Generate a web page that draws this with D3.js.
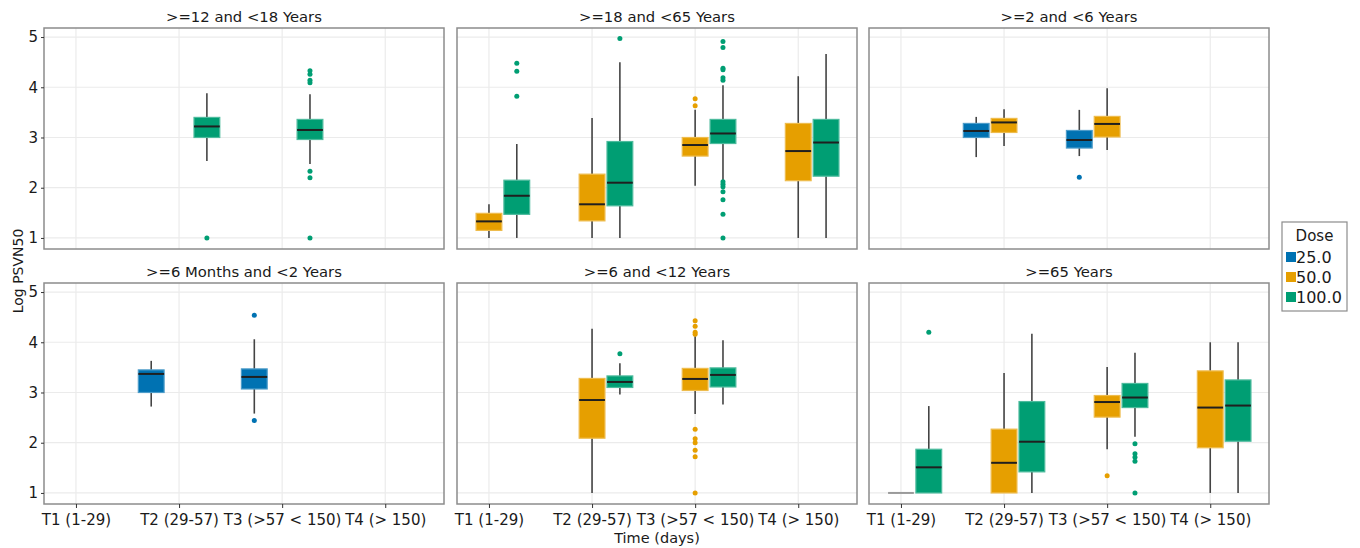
<!DOCTYPE html>
<html>
<head>
<meta charset="utf-8">
<script src="https://cdn.jsdelivr.net/npm/d3@7"></script>
<style>
  html, body { margin: 0; padding: 0; background: #fff; }
  svg { display: block; font-family: "DejaVu Sans", sans-serif; }
</style>
</head>
<body>
<svg id="chart" width="1360" height="548"></svg>
<script>
// Facet titles, laid out row by row (3 per row)
const panelTitles = [
  ">=12 and <18 Years", ">=18 and <65 Years", ">=2 and <6 Years",
  ">=6 Months and <2 Years", ">=6 and <12 Years", ">=65 Years"
];
const timeLabels = ["T1 (1-29)", "T2 (29-57)", "T3 (>57 < 150)", "T4 (> 150)"];
const doseLabels = ["25.0", "50.0", "100.0"];
const doseColors = ["#0072B2", "#E69F00", "#009E73"];
const yTicks = [1, 2, 3, 4, 5];

// Box statistics: [panel, time, dose, lowWhisker, q1, median, q3, highWhisker]
const boxStats = [
  [0, 1, 2, 2.53, 3.00, 3.22, 3.40, 3.88],
  [0, 2, 2, 2.47, 2.96, 3.15, 3.36, 3.86],

  [1, 0, 1, 1.00, 1.15, 1.33, 1.49, 1.67],
  [1, 0, 2, 1.00, 1.47, 1.84, 2.15, 2.87],
  [1, 1, 1, 1.00, 1.34, 1.67, 2.27, 3.39],
  [1, 1, 2, 1.00, 1.64, 2.10, 2.92, 4.50],
  [1, 2, 1, 2.04, 2.63, 2.85, 3.00, 3.55],
  [1, 2, 2, 2.15, 2.88, 3.08, 3.36, 4.04],
  [1, 3, 1, 1.00, 2.14, 2.73, 3.28, 4.22],
  [1, 3, 2, 1.00, 2.23, 2.90, 3.36, 4.66],

  [2, 1, 0, 2.61, 3.00, 3.13, 3.28, 3.41],
  [2, 1, 1, 2.83, 3.10, 3.30, 3.38, 3.56],
  [2, 2, 0, 2.63, 2.79, 2.95, 3.14, 3.55],
  [2, 2, 1, 2.75, 3.01, 3.27, 3.42, 3.98],

  [3, 1, 0, 2.72, 3.00, 3.37, 3.45, 3.63],
  [3, 2, 0, 2.58, 3.07, 3.31, 3.47, 4.06],

  [4, 1, 1, 1.00, 2.09, 2.85, 3.28, 4.27],
  [4, 1, 2, 2.96, 3.10, 3.21, 3.33, 3.58],
  [4, 2, 1, 2.57, 3.04, 3.27, 3.48, 4.12],
  [4, 2, 2, 2.76, 3.11, 3.35, 3.49, 4.04],

  [5, 0, 1, 1.00, 1.00, 1.00, 1.00, 1.00],
  [5, 0, 2, 1.00, 1.00, 1.51, 1.87, 2.73],
  [5, 1, 1, 1.00, 1.00, 1.60, 2.27, 3.39],
  [5, 1, 2, 1.00, 1.42, 2.02, 2.82, 4.17],
  [5, 2, 1, 1.87, 2.51, 2.81, 2.94, 3.51],
  [5, 2, 2, 2.12, 2.70, 2.90, 3.18, 3.79],
  [5, 3, 1, 1.00, 1.90, 2.70, 3.43, 4.00],
  [5, 3, 2, 1.00, 2.03, 2.74, 3.25, 4.00]
];

// Outlying observations: [panel, time, dose, value]
const outliers = [
  [0, 1, 2, 1.00],
  [0, 2, 2, 4.33], [0, 2, 2, 4.26], [0, 2, 2, 4.14], [0, 2, 2, 4.09],
  [0, 2, 2, 2.33], [0, 2, 2, 2.20], [0, 2, 2, 1.00],

  [1, 0, 2, 4.48], [1, 0, 2, 4.32], [1, 0, 2, 3.82],
  [1, 1, 2, 4.97],
  [1, 2, 1, 3.77], [1, 2, 1, 3.63],
  [1, 2, 2, 4.91], [1, 2, 2, 4.79], [1, 2, 2, 4.38], [1, 2, 2, 4.35],
  [1, 2, 2, 4.19], [1, 2, 2, 4.14],
  [1, 2, 2, 2.12], [1, 2, 2, 2.07], [1, 2, 2, 2.02], [1, 2, 2, 1.92],
  [1, 2, 2, 1.76], [1, 2, 2, 1.47], [1, 2, 2, 1.00],

  [2, 2, 0, 2.21],

  [3, 2, 0, 4.54], [3, 2, 0, 2.44],

  [4, 1, 2, 3.77],
  [4, 2, 1, 4.43], [4, 2, 1, 4.32], [4, 2, 1, 4.20], [4, 2, 1, 4.16],
  [4, 2, 1, 2.27], [4, 2, 1, 2.08], [4, 2, 1, 2.00], [4, 2, 1, 1.85],
  [4, 2, 1, 1.72], [4, 2, 1, 1.00],

  [5, 0, 2, 4.20],
  [5, 2, 1, 1.34],
  [5, 2, 2, 1.98], [5, 2, 2, 1.78], [5, 2, 2, 1.71], [5, 2, 2, 1.63], [5, 2, 2, 1.00]
];

// ---- layout ----
const panelW = 400, panelH = 221;
const panelLefts = [44, 457, 869];
const panelTops = [28, 283];
const doseOffset = [-0.27, 0, 0.27];   // dodge, in category units
const boxHalf = 0.125;                  // half box width, in category units

const svg = d3.select("#chart");

const x = d3.scaleLinear().domain([-0.31, 3.57]).range([0, panelW]);
const y = d3.scaleLinear().domain([0.78, 5.18]).range([panelH, 0]);

panelTitles.forEach((title, p) => {
  const row = Math.floor(p / 3), col = p % 3;
  const g = svg.append("g")
    .attr("transform", `translate(${panelLefts[col]},${panelTops[row]})`);

  // grid
  g.append("g").selectAll("line").data(yTicks).join("line")
    .attr("x1", 0).attr("x2", panelW)
    .attr("y1", d => y(d)).attr("y2", d => y(d))
    .attr("stroke", "#ebebeb").attr("stroke-width", 1.2);
  g.append("g").selectAll("line").data(timeLabels).join("line")
    .attr("x1", (d, i) => x(i)).attr("x2", (d, i) => x(i))
    .attr("y1", 0).attr("y2", panelH)
    .attr("stroke", "#ebebeb").attr("stroke-width", 1.2);

  // title
  svg.append("text")
    .attr("x", panelLefts[col] + panelW / 2)
    .attr("y", panelTops[row] - 6)
    .attr("text-anchor", "middle")
    .attr("font-size", 14.8)
    .attr("fill", "#1a1a1a")
    .text(title);

  // boxes
  const boxes = boxStats.filter(b => b[0] === p);
  const bg = g.selectAll("g.box").data(boxes).join("g").attr("class", "box");
  const cx = b => x(b[1] + doseOffset[b[2]]);

  bg.append("line")
    .attr("x1", cx).attr("x2", cx)
    .attr("y1", b => y(b[7])).attr("y2", b => y(b[6]))
    .attr("stroke", "#444").attr("stroke-width", 1.6);
  bg.append("line")
    .attr("x1", cx).attr("x2", cx)
    .attr("y1", b => y(b[4])).attr("y2", b => y(b[3]))
    .attr("stroke", "#444").attr("stroke-width", 1.6);
  bg.append("rect")
    .attr("x", b => x(b[1] + doseOffset[b[2]] - boxHalf))
    .attr("width", b => x(b[1] + doseOffset[b[2]] + boxHalf) - x(b[1] + doseOffset[b[2]] - boxHalf))
    .attr("y", b => y(b[6]))
    .attr("height", b => y(b[4]) - y(b[6]))
    .attr("fill", b => doseColors[b[2]])
    .attr("stroke", b => d3.interpolateRgb(doseColors[b[2]], "#ffffff")(0.3))
    .attr("stroke-width", 1.2);
  bg.append("line")
    .attr("x1", b => x(b[1] + doseOffset[b[2]] - boxHalf))
    .attr("x2", b => x(b[1] + doseOffset[b[2]] + boxHalf))
    .attr("y1", b => y(b[5])).attr("y2", b => y(b[5]))
    .attr("stroke", b => b[4] === b[6] ? "#9a9a9a" : "#1f1f1f")
    .attr("stroke-width", 2);

  // outliers
  g.selectAll("circle").data(outliers.filter(o => o[0] === p)).join("circle")
    .attr("cx", o => x(o[1] + doseOffset[o[2]]))
    .attr("cy", o => y(o[3]))
    .attr("r", 2.5)
    .attr("fill", o => doseColors[o[2]]);

  // panel border
  g.append("rect")
    .attr("width", panelW).attr("height", panelH)
    .attr("fill", "none").attr("stroke", "#8c8c8c").attr("stroke-width", 1.5);

  // y axis on left column
  if (col === 0) {
    const ya = g.append("g")
      .call(d3.axisLeft(y).tickValues(yTicks).tickSize(3).tickFormat(d3.format("d")));
    ya.select(".domain").remove();
    ya.selectAll("line").attr("stroke", "#333");
    ya.selectAll("text").attr("font-size", 15).attr("fill", "#1a1a1a")
      .attr("font-family", "DejaVu Sans, sans-serif");
  }
  // x axis on bottom row
  if (row === 1) {
    const xa = g.append("g").attr("transform", `translate(0,${panelH})`)
      .call(d3.axisBottom(x).tickValues([0, 1, 2, 3]).tickSize(4)
        .tickFormat(i => timeLabels[i]));
    xa.select(".domain").remove();
    xa.selectAll("line").attr("stroke", "#333");
    xa.selectAll("text").attr("font-size", 15).attr("fill", "#1a1a1a")
      .attr("font-family", "DejaVu Sans, sans-serif").attr("dy", "0.95em");
  }
});

// axis titles
svg.append("text")
  .attr("transform", "translate(23,271) rotate(-90)")
  .attr("text-anchor", "middle")
  .attr("font-size", 14).attr("fill", "#1a1a1a")
  .text("Log PSVN50");
svg.append("text")
  .attr("x", 657).attr("y", 543)
  .attr("text-anchor", "middle")
  .attr("font-size", 14.5).attr("fill", "#1a1a1a")
  .text("Time (days)");

// legend
const lg = svg.append("g").attr("transform", "translate(1282,222)");
lg.append("rect").attr("width", 65).attr("height", 89)
  .attr("fill", "#fff").attr("stroke", "#8c8c8c").attr("stroke-width", 1.2);
lg.append("text").attr("x", 32.5).attr("y", 19).attr("text-anchor", "middle")
  .attr("font-size", 15).attr("fill", "#1a1a1a").text("Dose");
const items = lg.selectAll("g.item").data(doseLabels).join("g")
  .attr("class", "item")
  .attr("transform", (d, i) => `translate(4,${30 + i * 20})`);
items.append("rect").attr("width", 10).attr("height", 10)
  .attr("fill", (d, i) => doseColors[i]);
items.append("text").attr("x", 10).attr("y", 10.5)
  .attr("font-size", 16).attr("fill", "#1a1a1a").text(d => d);
</script>
</body>
</html>
